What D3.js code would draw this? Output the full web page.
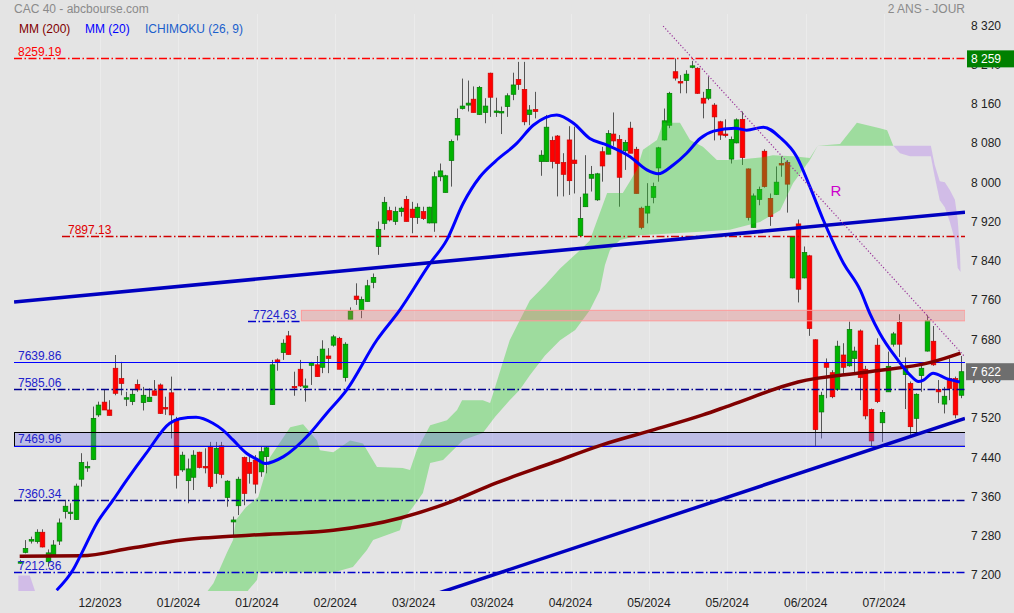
<!DOCTYPE html>
<html><head><meta charset="utf-8">
<script src="https://cdn.jsdelivr.net/npm/d3@7"></script>
<style>
body{margin:0;background:#e4e4e4;}
svg{display:block;font-family:"Liberation Sans",Arial,sans-serif;}
</style>
</head><body>
<svg id="c" width="1014" height="613"></svg>
<script>
// ---------- DATA ----------
const opens  = [7234,7253,7276,7275,7294,7234,7248,7276,7336,7333,7320,7402,7427,7442,7533,7559,7543,7628,7607,7565,7560,7595,7558,7560,7582,7594,7548,7578,7524,7421,7399,7406,7457,7428,7467,7414,7470,7365,7315,7348,7446,7436,7441,7417,7448,7554,7645,7660,7694,7591,7626,7590,7634,7635,7630,7653,7675,7689,7609,7728,7775,7747,7764,7803,7876,7923,7949,7927,7947,7972,7952,7935,7947,7924,7924,8018,7986,8051,8103,8157,8164,8176,8145,8149,8229,8149,8148,8161,8186,8216,8196,8145,8155,8049,8049,8092,8101,8047,8093,8052,7898,7957,8015,7971,8069,8064,8105,8094,8071,8117,8074,7954,7944,7976,8036,8093,8123,8232,8212,8214,8242,8239,8178,8178,8164,8130,8105,8054,8087,8135,8034,7915,7972,8070,7974,7982,8045,8047,7812,7922,7812,7857,7686,7539,7639,7619,7585,7655,7633,7648,7704,7626,7544,7675,7517,7580,7677,7721,7615,7597,7526,7613,7663,7683,7585,7555,7607,7607,7573];
const highs  = [7238,7278,7285,7300,7300,7259,7278,7322,7360,7353,7393,7455,7438,7550,7560,7584,7563,7655,7641,7580,7584,7605,7590,7587,7604,7597,7570,7611,7529,7458,7444,7461,7458,7465,7478,7478,7478,7400,7326,7407,7448,7448,7451,7468,7468,7645,7648,7687,7704,7621,7645,7607,7641,7653,7685,7669,7696,7692,7681,7752,7801,7774,7808,7821,7927,7977,7957,7957,7957,7979,7967,7964,7957,7957,8028,8045,8022,8094,8157,8218,8214,8202,8203,8178,8230,8179,8161,8188,8230,8252,8252,8164,8191,8072,8144,8100,8103,8066,8121,8120,7977,8062,8040,8026,8079,8113,8149,8103,8093,8130,8079,7957,8005,8006,8079,8157,8191,8259,8225,8235,8254,8241,8191,8222,8168,8132,8135,8100,8137,8151,8035,7984,7998,8074,7984,8039,8059,8052,7897,7931,7876,7859,7687,7580,7648,7624,7684,7679,7723,7672,7707,7633,7546,7689,7543,7662,7702,7738,7650,7601,7577,7638,7736,7714,7604,7590,7648,7611,7653];
const lows   = [7230,7251,7271,7271,7263,7224,7245,7268,7322,7319,7319,7387,7417,7441,7529,7543,7532,7573,7573,7551,7553,7580,7542,7560,7573,7535,7533,7485,7383,7417,7353,7380,7424,7414,7383,7393,7404,7346,7285,7329,7349,7393,7373,7407,7414,7554,7623,7645,7656,7572,7590,7560,7594,7611,7618,7618,7672,7626,7601,7728,7757,7730,7764,7791,7859,7910,7927,7920,7937,7927,7903,7922,7930,7923,7906,8009,7986,7998,8092,8155,8151,8149,8144,8127,8140,8140,8105,8140,8174,8195,8123,8123,8137,8020,8049,8035,7978,7978,7981,7984,7898,7957,7988,7969,8008,8064,8081,7957,8032,8066,7984,7911,7923,7964,8008,8092,8117,8214,8188,8188,8239,8187,8137,8174,8092,8093,8098,8045,8086,8042,7929,7915,7960,7996,7918,7981,8018,7945,7811,7762,7811,7694,7470,7485,7567,7567,7582,7614,7631,7618,7563,7524,7468,7557,7478,7580,7672,7651,7545,7492,7495,7580,7662,7633,7557,7536,7563,7526,7567];
const closes = [7234,7261,7279,7294,7264,7252,7268,7313,7347,7335,7388,7436,7428,7526,7553,7543,7532,7577,7597,7568,7575,7584,7573,7569,7573,7536,7545,7533,7410,7451,7423,7451,7426,7426,7387,7465,7412,7398,7319,7402,7373,7414,7392,7458,7466,7635,7641,7679,7656,7589,7592,7592,7639,7611,7667,7648,7692,7626,7677,7745,7768,7768,7796,7813,7911,7966,7930,7947,7954,7927,7935,7956,7933,7956,8018,8030,8020,8090,8137,8162,8168,8149,8200,8162,8180,8152,8151,8183,8205,8206,8130,8154,8151,8062,8119,8049,8045,8023,8010,8045,7933,7983,8023,8024,8040,8106,8091,8017,8088,8066,7984,7915,7958,7998,8077,8132,8188,8219,8211,8227,8244,8188,8168,8196,8140,8103,8102,8094,8134,8057,7935,7979,7992,7998,7937,8007,8042,8003,7896,7789,7864,7709,7503,7573,7630,7570,7673,7630,7707,7663,7609,7531,7480,7560,7538,7632,7698,7677,7627,7509,7575,7628,7725,7635,7580,7571,7587,7533,7621];

const xTickIdx    = [14,28,42,56,70,84,98,112,126,140,154];
const xTickLabels = ["12/2023","01/2024","01/2024","02/2024","03/2024","03/2024","04/2024","05/2024","05/2024","06/2024","07/2024"];
const yTicks      = [7200,7280,7360,7440,7520,7600,7680,7760,7840,7920,8000,8080,8160,8240,8320];

const mm200Idx = [0,11,20,29,41,56,68,77,85,95,104,113,122,127,139,151,163,168];
const mm200Val = [7245,7246,7262,7278,7288,7298,7323,7356,7394,7435,7472,7502,7533,7553,7600,7620,7641,7659];

const mm20Idx = [6.6,9.5,11.1,13.75,16.7,19.1,22.6,26.8,28.6,31.5,34.5,36.3,38.1,40.5,42.6,43.8,47.1,51.8,54.8,58.4,63.75,67.9,73.3,76.25,79.2,82.2,84.9,88.75,91.7,95.9,98.9,101.8,104.8,109,112,114,116.7,119.1,121.5,123.9,127.7,129.8,132.8,135.8,138.75,141.1,143.5,147.1,150.1,151.8,153.6,156.6,159,160.5,161.4,163.1,165.5,167.9];
const mm20Val = [7176,7217,7252,7312,7360,7400,7455,7516,7525,7528,7516,7502,7482,7455,7441,7434,7448,7495,7536,7584,7685,7747,7842,7889,7964,8018,8049,8086,8123,8144,8127,8096,8083,8059,8032,8024,8042,8066,8096,8111,8117,8113,8119,8098,8059,7998,7930,7842,7787,7740,7699,7648,7614,7601,7604,7618,7607,7600];

// Ichimoku cloud boundaries (green: span A above span B, purple: span B above span A)
const greenUpIdx = [33.4,34.6,37,38.1,38.6,40.4,42.6,44.7,48.3,50.6,53.1,53.6,56,59,61.3,63.8,68.4,69.7,70.9,73.3,76.3,78.1,79,82.7,84,84.9,87.5,89.3,91.1,93.8,96.5,100,101.8,104.9,107.7,110.2,111.3,113.8,114.9,117.9,119.7,122,124.5,127.7,132.7,134.5,138.1,141.1,142.5,146.5,149.5,153.6,154.9,156];
const greenUpVal = [7172,7190,7252,7278,7319,7345,7366,7447,7508,7514,7481,7461,7457,7481,7475,7427,7425,7421,7461,7512,7522,7543,7563,7563,7557,7590,7685,7726,7766,7797,7831,7868,7888,7985,7985,8032,8073,8093,8128,8128,8093,8079,8052,8052,8058,8062,8060,8056,8081,8085,8128,8117,8113,8081];
const greenLoIdx = [33.4,33.8,40.4,40.8,42.4,42.6,56,59.5,62,63.1,67.9,68.4,70.2,72,73.3,75.6,79.2,82.7,84.9,87.5,89.3,91.1,93.8,96.5,99.2,101.8,103.6,104.5,105.4,107.2,110.8,121.5,126.8,132.2,135.8,138.1,141.1,142.5,156];
const greenLoVal = [7172,7100,7100,7176,7197,7212,7212,7223,7258,7278,7298,7319,7345,7374,7435,7441,7482,7496,7529,7563,7584,7614,7654,7685,7706,7746,7787,7838,7869,7889,7899,7906,7910,7926,7950,8005,8052,8081,8081];
const purpleUpIdx = [-0.25,1.8,2.8, 156,162.7,163.4,164.3,165.2,166.1,167,167.5,167.9,168];
const purpleUpVal = [7206,7206,7172, 8081,8081,8042,8009,8007,7991,7971,7930,7869,7824];
const purpleLoIdx = [-0.25,2.8, 156,157.2,159,162.7,163.4,164.3,165.2,166.1,167,167.5,168];
const purpleLoVal = [7100,7100, 8081,8066,8060,8060,8018,7970,7956,7926,7889,7832,7824];

// horizontal levels
const levelVals   = [8259.19, 7897.13, 7639.86, 7585.06, 7360.34, 7212.36];
const resistBand  = [7724.63, 7746];
const supportBand = [7469.96, 7498];

// trend lines
const trendUpIdx = [-1, 168.8],   trendUpVal = [7763, 7946];
const trendLoIdx = [70, 168.8],   trendLoVal = [7152, 7526];
const resistIdx  = [114.9, 168.8], resistVal = [8325, 7651];

const lastPrice = 7622, recordHigh = 8259.19;

// ---------- CHART ----------
const svg = d3.select("#c");
const L = 14, R = 965, T = 14, B = 591;
const x = d3.scaleLinear().domain([0, 168]).range([19.7, 960.5]);
const y = d3.scaleLinear().domain([7200, 8320]).range([578.4, 28.5]);

svg.append("rect").attr("width",1014).attr("height",613).attr("fill","#e4e4e4");
svg.append("clipPath").attr("id","pc").append("rect").attr("x",L).attr("y",T).attr("width",R-L).attr("height",B-T);
const g = svg.append("g").attr("clip-path","url(#pc)");

// faint vertical grid
g.selectAll(".vg").data(xTickIdx).join("line")
  .attr("x1",d=>Math.round(x(d))+2.5).attr("x2",d=>Math.round(x(d))+2.5)
  .attr("y1",T).attr("y2",B).attr("stroke","#ffffff").attr("stroke-opacity",0.25);

// candles
const idx = d3.range(opens.length);
g.selectAll(".wick").data(idx).join("line")
  .attr("x1",i=>Math.round(x(i))+0.5).attr("x2",i=>Math.round(x(i))+0.5)
  .attr("y1",i=>y(highs[i])).attr("y2",i=>y(lows[i]))
  .attr("stroke","#555").attr("stroke-width",1);
g.selectAll(".body").data(idx).join("rect")
  .attr("x",i=>Math.round(x(i))-1.8).attr("width",4.6)
  .attr("y",i=>y(Math.max(opens[i],closes[i])))
  .attr("height",i=>Math.max(1.5,Math.abs(y(opens[i])-y(closes[i]))))
  .attr("fill",i=>closes[i]>=opens[i]?"#00b400":"#ff0000")
  .attr("stroke",i=>closes[i]>=opens[i]?"#007a00":"#cc0000")
  .attr("stroke-width",0.7);

// cloud
function poly(ui,uv,li,lv){
  const pts = ui.map((d,k)=>[x(d),y(uv[k])]).concat(li.map((d,k)=>[x(d),y(lv[k])]).reverse());
  return "M"+pts.map(p=>p.join(",")).join("L")+"Z";
}
g.append("path").attr("d",poly(greenUpIdx,greenUpVal,greenLoIdx,greenLoVal))
  .attr("fill","rgb(39,205,39)").attr("fill-opacity",0.37);
g.append("path").attr("d",poly(purpleUpIdx.slice(0,3),purpleUpVal.slice(0,3),purpleLoIdx.slice(0,2),purpleLoVal.slice(0,2)))
  .attr("fill","rgb(175,120,235)").attr("fill-opacity",0.37);
g.append("path").attr("d",poly(purpleUpIdx.slice(3),purpleUpVal.slice(3),purpleLoIdx.slice(2),purpleLoVal.slice(2)))
  .attr("fill","rgb(175,120,235)").attr("fill-opacity",0.37);

// bands
g.append("rect").attr("x",x(50.3)).attr("width",R-x(50.3))
  .attr("y",y(resistBand[1])).attr("height",y(resistBand[0])-y(resistBand[1]))
  .attr("fill","rgb(230,110,110)").attr("fill-opacity",0.3)
  .attr("stroke","#ff9a9a").attr("stroke-width",1);
g.append("rect").attr("x",L+0.5).attr("width",R-L)
  .attr("y",Math.round(y(supportBand[1]))+0.5).attr("height",y(supportBand[0])-y(supportBand[1]))
  .attr("fill","rgb(110,110,235)").attr("fill-opacity",0.33)
  .attr("stroke","#000").attr("stroke-width",1);

// level lines
const levelStyle = [
  {c:"#ff0000", dash:"8,2.5,1.5,2.5", w:1.3},
  {c:"#d00000", dash:"8,2.5,1.5,2.5", w:1.3},
  {c:"#0000ff", dash:null, w:1},
  {c:"#000090", dash:"8,2.5,1.5,2.5", w:1.3},
  {c:"#000090", dash:"8,2.5,1.5,2.5", w:1.3},
  {c:"#0000cc", dash:"8,2.5,1.5,2.5", w:1.3}
];
levelVals.forEach((v,k)=>{
  const st=levelStyle[k];
  const ln=g.append("line").attr("x1",k===1?62:L).attr("x2",R)
    .attr("y1",Math.round(y(v))+0.5).attr("y2",Math.round(y(v))+0.5)
    .attr("stroke",st.c).attr("stroke-width",st.w);
  if(st.dash) ln.attr("stroke-dasharray",st.dash);
});
g.append("line").attr("x1",L).attr("x2",R)
  .attr("y1",Math.round(y(supportBand[0]))+0.5).attr("y2",Math.round(y(supportBand[0]))+0.5)
  .attr("stroke","#0000ff").attr("stroke-width",1);
g.append("line").attr("x1",248).attr("x2",x(50.3))
  .attr("y1",Math.round(y(resistBand[0]))+0.5).attr("y2",Math.round(y(resistBand[0]))+0.5)
  .attr("stroke","#0000cc").attr("stroke-width",1.3).attr("stroke-dasharray","8,2.5,1.5,2.5");

// moving averages
const lineGen = d3.line().curve(d3.curveMonotoneX);
g.append("path").attr("d",lineGen(mm200Idx.map((d,k)=>[x(d),y(mm200Val[k])])))
  .attr("fill","none").attr("stroke","#800000").attr("stroke-width",3.5);
g.append("path").attr("d",lineGen(mm20Idx.map((d,k)=>[x(d),y(mm20Val[k])])))
  .attr("fill","none").attr("stroke","#0000ff").attr("stroke-width",3);

// trend lines
g.append("line").attr("x1",x(trendUpIdx[0])).attr("x2",x(trendUpIdx[1]))
  .attr("y1",y(trendUpVal[0])).attr("y2",y(trendUpVal[1]))
  .attr("stroke","#0000c0").attr("stroke-width",3.5);
g.append("line").attr("x1",x(trendLoIdx[0])).attr("x2",x(trendLoIdx[1]))
  .attr("y1",y(trendLoVal[0])).attr("y2",y(trendLoVal[1]))
  .attr("stroke","#0000c0").attr("stroke-width",3.5);
g.append("line").attr("x1",x(resistIdx[0])).attr("x2",x(resistIdx[1]))
  .attr("y1",y(resistVal[0])).attr("y2",y(resistVal[1]))
  .attr("stroke","#993399").attr("stroke-width",1.2).attr("stroke-dasharray","1.2,2");

g.append("text").attr("x",836).attr("y",196).attr("text-anchor","middle")
  .attr("font-size",15).attr("fill","#cc00cc").text("R");

// level labels
const lblX = [18, 68, 18, 18, 18, 18];
const lblColor = ["#ff0000","#e00000","#2222cc","#2222cc","#2222cc","#2222cc"];
levelVals.forEach((v,k)=>{
  svg.append("text").attr("x",lblX[k]).attr("y",y(v)-2).attr("font-size",12)
    .attr("fill",lblColor[k]).text(v.toFixed(2));
});
svg.append("text").attr("x",253).attr("y",y(resistBand[0])-2).attr("font-size",12).attr("fill","#2222cc").text(resistBand[0].toFixed(2));
svg.append("text").attr("x",18).attr("y",y(supportBand[0])-2.5).attr("font-size",12).attr("fill","#2222cc").text(supportBand[0].toFixed(2));

// y axis (ticks hidden behind price boxes are clipped to the visible sliver)
const fmt = v=>d3.format(",")(v).replace(","," ");
svg.selectAll(".yt").data(yTicks).join("text")
  .attr("x",971).attr("y",d=>y(d)+1).attr("font-size",12).attr("fill","#222").text(fmt);
svg.append("rect").attr("x",967).attr("y",y(recordHigh)-8).attr("width",47).attr("height",17).attr("fill","#008000");
svg.append("text").attr("x",971).attr("y",y(recordHigh)+5).attr("font-size",12).attr("fill","#fff").text(fmt(Math.floor(recordHigh)));
svg.append("rect").attr("x",966).attr("y",y(lastPrice)-8).attr("width",48).attr("height",17).attr("fill","#6e6e6e");
svg.append("text").attr("x",971).attr("y",y(lastPrice)+5).attr("font-size",12).attr("fill","#fff").text(fmt(lastPrice));

// x axis
svg.selectAll(".xt").data(xTickIdx).join("text")
  .attr("x",(d)=>x(d)+2).attr("y",607).attr("text-anchor","middle")
  .attr("font-size",12).attr("fill","#222").text((d,k)=>xTickLabels[k]);

// titles & legend
svg.append("text").attr("x",14).attr("y",13).attr("font-size",12).attr("fill","#8a8a8a").text("CAC 40 - abcbourse.com");
svg.append("text").attr("x",965).attr("y",13).attr("text-anchor","end").attr("font-size",12).attr("fill","#8a8a8a").text("2 ANS - JOUR");
svg.append("text").attr("x",19).attr("y",33).attr("font-size",12).attr("fill","#800000").text("MM (200)");
svg.append("text").attr("x",85).attr("y",33).attr("font-size",12).attr("fill","#0000ff").text("MM (20)");
svg.append("text").attr("x",145).attr("y",33).attr("font-size",12).attr("fill","#1a5fcc").text("ICHIMOKU (26, 9)");
</script>
</body></html>
